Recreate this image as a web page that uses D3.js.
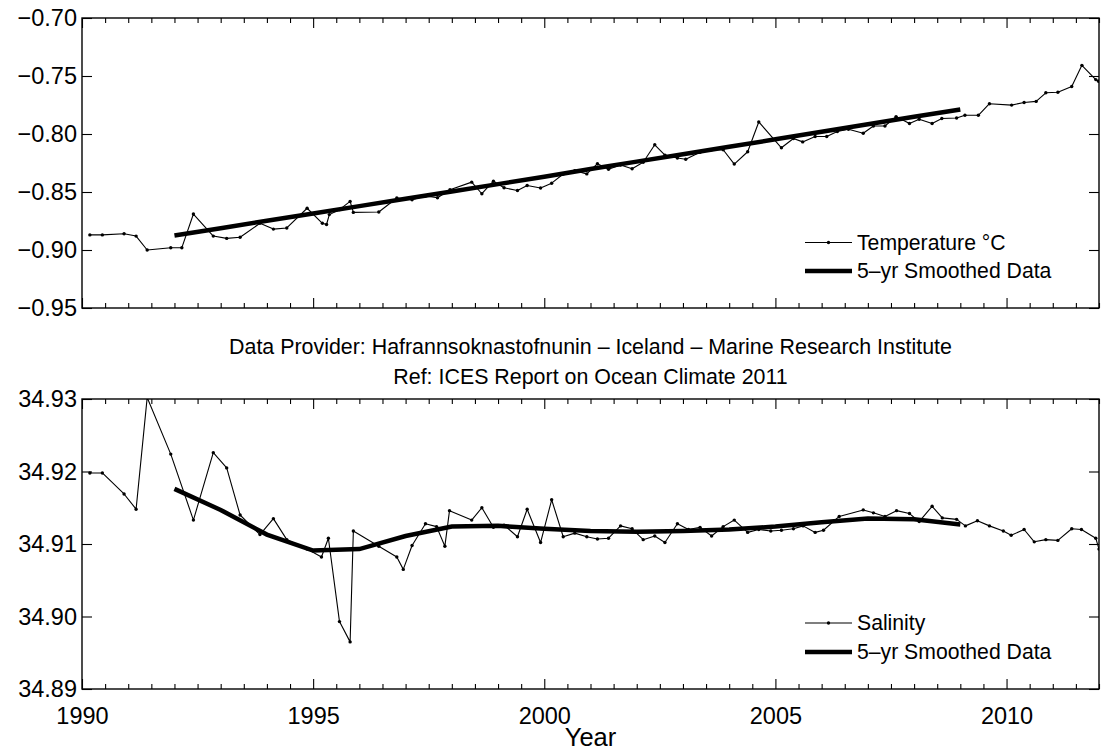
<!DOCTYPE html>
<html>
<head>
<meta charset="utf-8">
<script src="https://cdn.jsdelivr.net/npm/d3@7"></script>
<style>
  html, body { margin: 0; padding: 0; background: #fff; }
  svg { display: block; font-family: "Liberation Sans", Arial, Helvetica, sans-serif; }
</style>
</head>
<body>
<svg id="chart" width="1111" height="754"></svg>
<script>
// Sampling times (decimal years) and temperature (°C)
const tempYears = [1990.17,1990.44,1990.91,1991.17,1991.41,1991.92,1992.16,1992.41,1992.84,1993.13,1993.42,1993.85,1994.14,1994.43,1994.87,1995.20,1995.29,1995.35,1995.57,1995.80,1995.87,1996.42,1996.81,1997.14,1997.43,1997.69,1997.96,1998.43,1998.65,1998.90,1999.13,1999.42,1999.63,1999.92,2000.16,2000.41,2000.66,2000.92,2001.15,2001.39,2001.65,2001.90,2002.14,2002.39,2002.61,2002.88,2003.06,2003.37,2003.62,2003.87,2004.11,2004.40,2004.64,2005.13,2005.39,2005.59,2005.86,2006.11,2006.34,2006.58,2006.90,2007.12,2007.37,2007.61,2007.90,2008.11,2008.39,2008.60,2008.92,2009.10,2009.39,2009.63,2010.11,2010.38,2010.64,2010.85,2011.11,2011.41,2011.63,2011.93,2011.99];
const tempValues = [-0.887,-0.887,-0.886,-0.888,-0.900,-0.898,-0.898,-0.869,-0.888,-0.890,-0.889,-0.877,-0.882,-0.881,-0.864,-0.877,-0.878,-0.8695,-0.8652,-0.8581,-0.8676,-0.8672,-0.8552,-0.8567,-0.8535,-0.855,-0.848,-0.8415,-0.8515,-0.8407,-0.8464,-0.8487,-0.8444,-0.8466,-0.8424,-0.8345,-0.8316,-0.8344,-0.8256,-0.8304,-0.8267,-0.8299,-0.8244,-0.8093,-0.8182,-0.8207,-0.8218,-0.8158,-0.8136,-0.8136,-0.8259,-0.8153,-0.7896,-0.8119,-0.8039,-0.8068,-0.8021,-0.8021,-0.7979,-0.7959,-0.7993,-0.7931,-0.7931,-0.785,-0.791,-0.7873,-0.791,-0.7867,-0.7862,-0.7839,-0.7839,-0.7739,-0.7751,-0.7728,-0.7719,-0.7645,-0.7640,-0.7591,-0.7408,-0.7531,-0.7545];

// 5-year smoothed temperature, yearly
const smoothYears = [1992,1993,1994,1995,1996,1997,1998,1999,2000,2001,2002,2003,2004,2005,2006,2007,2008,2009];
const tempSmooth = [-0.8875,-0.8812,-0.8748,-0.8685,-0.8622,-0.8558,-0.8496,-0.8432,-0.8368,-0.8302,-0.8238,-0.8174,-0.8110,-0.8046,-0.7980,-0.7916,-0.7852,-0.7788];

// Sampling times and salinity
const salYears = [1990.17,1990.44,1990.91,1991.17,1991.41,1991.92,1992.41,1992.84,1993.13,1993.42,1993.85,1994.14,1994.43,1994.87,1995.18,1995.33,1995.57,1995.80,1995.87,1996.42,1996.81,1996.95,1997.14,1997.43,1997.67,1997.85,1997.95,1998.43,1998.65,1998.90,1999.13,1999.42,1999.63,1999.92,2000.16,2000.41,2000.66,2000.92,2001.15,2001.39,2001.65,2001.90,2002.14,2002.39,2002.61,2002.88,2003.12,2003.37,2003.62,2003.87,2004.11,2004.40,2004.64,2004.90,2005.13,2005.39,2005.60,2005.86,2006.04,2006.38,2006.90,2007.12,2007.37,2007.62,2007.90,2008.11,2008.39,2008.61,2008.92,2009.11,2009.37,2009.63,2009.93,2010.10,2010.38,2010.60,2010.85,2011.11,2011.41,2011.62,2011.93,2012.00];
const salValues = [34.9198,34.9198,34.9169,34.9148,34.9302,34.9224,34.9133,34.9226,34.9205,34.9140,34.9113,34.9135,34.9106,34.9093,34.9082,34.9108,34.8993,34.8965,34.9118,34.9097,34.9082,34.9065,34.9098,34.9128,34.9124,34.9097,34.9146,34.9133,34.9150,34.9123,34.9126,34.9110,34.9148,34.9102,34.9161,34.9110,34.9115,34.9110,34.9107,34.9108,34.9125,34.9121,34.9106,34.9111,34.9102,34.9128,34.9120,34.9123,34.9111,34.9124,34.9133,34.9116,34.9120,34.9118,34.9119,34.9121,34.9125,34.9116,34.9119,34.9138,34.9147,34.9143,34.9138,34.9146,34.9142,34.9131,34.9152,34.9136,34.9134,34.9125,34.9132,34.9125,34.9118,34.9112,34.9120,34.9103,34.9106,34.9105,34.9121,34.9120,34.9108,34.9093];

// 5-year smoothed salinity, yearly
const salSmooth = [34.9176,34.9147,34.9113,34.9091,34.9093,34.9111,34.9124,34.9125,34.9121,34.9118,34.9117,34.9118,34.9120,34.9124,34.9130,34.9135,34.9134,34.9127];

// Axis ticks
const tempTicks = [-0.95,-0.90,-0.85,-0.80,-0.75,-0.70];
const salTicks = [34.89,34.90,34.91,34.92,34.93];
const yearTicks = [1990,1995,2000,2005,2010];

const svg = d3.select("#chart");
const left = 82, right = 1099;

const x = d3.scaleLinear().domain([1990, 2012]).range([left, right]);
const yT = d3.scaleLinear().domain([-0.95, -0.70]).range([308, 18]);
const yS = d3.scaleLinear().domain([34.89, 34.93]).range([689, 399]);

const halfYears = d3.range(1990, 2012.001, 0.5).filter(v => v % 5 !== 0);

function panel(y, ticks, fmt, showX, id) {
  const [y0, y1] = y.range();
  const g = svg.append("g");

  g.append("clipPath").attr("id", id)
    .append("rect").attr("x", left).attr("y", y1).attr("width", right - left).attr("height", y0 - y1);

  // minor and major x ticks on bottom and top edges, pointing inward
  const addX = (axisFn, ty, vals, size, labels) => {
    const a = g.append("g").attr("transform", `translate(0,${ty})`)
      .call(axisFn(x).tickValues(vals).tickSize(-size).tickPadding(18)
        .tickFormat(labels ? d3.format("d") : ""));
    a.select(".domain").remove();
    a.selectAll("line").attr("stroke", "#000").attr("stroke-width", 1.1);
    a.selectAll("text").attr("font-size", 23.5).attr("fill", "#000").attr("font-family", null);
    return a;
  };
  addX(d3.axisBottom, y0, halfYears, 5, false);
  addX(d3.axisBottom, y0, yearTicks, 10, showX);
  addX(d3.axisTop, y1, halfYears, 5, false);
  addX(d3.axisTop, y1, yearTicks, 10, false);

  const l = g.append("g").attr("transform", `translate(${left},0)`)
    .call(d3.axisLeft(y).tickValues(ticks).tickSize(-10).tickPadding(5).tickFormat(fmt));
  l.select(".domain").remove();
  l.selectAll("line").attr("stroke", "#000").attr("stroke-width", 1.1);
  l.selectAll("text").attr("font-size", 23.5).attr("fill", "#000").attr("font-family", null);

  const r = g.append("g").attr("transform", `translate(${right},0)`)
    .call(d3.axisRight(y).tickValues(ticks).tickSize(-10).tickFormat(""));
  r.select(".domain").remove();
  r.selectAll("line").attr("stroke", "#000").attr("stroke-width", 1.1);

  g.append("rect").attr("x", left).attr("y", y1).attr("width", right - left).attr("height", y0 - y1)
    .attr("fill", "none").attr("stroke", "#000").attr("stroke-width", 1.4);

  return g.append("g").attr("clip-path", `url(#${id})`);
}

function series(plot, y, xs, vs, sx, sv) {
  const line = d3.line().x(d => x(d[0])).y(d => y(d[1]));
  const raw = d3.zip(xs, vs);
  plot.append("path").datum(raw).attr("d", line)
    .attr("fill", "none").attr("stroke", "#000").attr("stroke-width", 1.1).attr("stroke-linejoin", "round");
  plot.selectAll("circle.pt").data(raw).join("circle").attr("class", "pt")
    .attr("cx", d => x(d[0])).attr("cy", d => y(d[1])).attr("r", 1.7).attr("fill", "#000");
  plot.append("path").datum(d3.zip(sx, sv)).attr("d", line)
    .attr("fill", "none").attr("stroke", "#000").attr("stroke-width", 4.5);
}

function legend(yRow1, yRow2, label) {
  const g = svg.append("g");
  g.append("line").attr("x1", 805).attr("x2", 852).attr("y1", yRow1).attr("y2", yRow1)
    .attr("stroke", "#000").attr("stroke-width", 1.1);
  g.append("circle").attr("cx", 828.5).attr("cy", yRow1).attr("r", 1.7).attr("fill", "#000");
  g.append("line").attr("x1", 805).attr("x2", 852).attr("y1", yRow2).attr("y2", yRow2)
    .attr("stroke", "#000").attr("stroke-width", 4.5);
  g.append("text").attr("x", 857).attr("y", yRow1).attr("dy", "0.35em")
    .attr("font-size", 21.2).text(label);
  g.append("text").attr("x", 857).attr("y", yRow2).attr("dy", "0.35em")
    .attr("font-size", 21.2).text("5\u2013yr Smoothed Data");
}

const topPlot = panel(yT, tempTicks, d3.format(".2f"), false, "clipTop");
series(topPlot, yT, tempYears, tempValues, smoothYears, tempSmooth);
legend(242.5, 271, "Temperature \u00B0C");

const botPlot = panel(yS, salTicks, d3.format(".2f"), true, "clipBot");
series(botPlot, yS, salYears, salValues, smoothYears, salSmooth);
legend(623, 652, "Salinity");

// Source note between panels
svg.append("text").attr("x", (left + right) / 2).attr("y", 347).attr("dy", "0.35em")
  .attr("text-anchor", "middle").attr("font-size", 21.4)
  .text("Data Provider: Hafrannsoknastofnunin \u2013 Iceland \u2013 Marine Research Institute");
svg.append("text").attr("x", (left + right) / 2).attr("y", 377).attr("dy", "0.35em")
  .attr("text-anchor", "middle").attr("font-size", 21.4)
  .text("Ref: ICES Report on Ocean Climate 2011");

svg.append("text").attr("x", (left + right) / 2).attr("y", 746)
  .attr("text-anchor", "middle").attr("font-size", 25.5).text("Year");
</script>
</body>
</html>
